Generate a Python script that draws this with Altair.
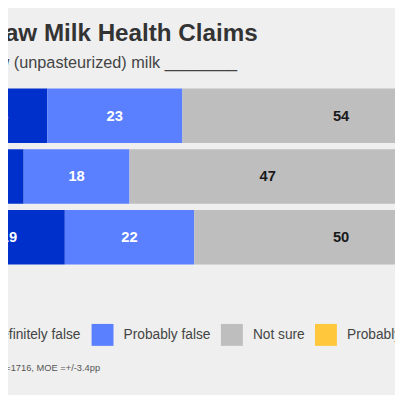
import altair as alt
import pandas as pd

# ---- data ----
claims = [
    "Is more nutritious than pasteurized milk",
    "Helps treat allergies and asthma",
    "Is better for gut health",
]
responses = ["Definitely false", "Probably false", "Not sure", "Probably true", "Definitely true"]
definitely_false = [16, 12, 19]
probably_false = [23, 18, 22]
not_sure = [54, 47, 50]
probably_true = [5, 16, 6]
definitely_true = [2, 7, 3]
colors = ["#0030cc", "#5a80ff", "#bebebe", "#ffc83c", "#e89a00"]
label_colors = ["#ffffff", "#ffffff", "#1a1a1a", "#1a1a1a", "#1a1a1a"]

title_text = "Raw Milk Health Claims"
subtitle_text = "Raw (unpasteurized) milk ________"
source_text = "Source: online survey of U.S. adults, N=1716, MOE =+/-3.4pp"

series = [definitely_false, probably_false, not_sure, probably_true, definitely_true]
rows = []
for ci, claim in enumerate(claims):
    for ri, resp in enumerate(responses):
        rows.append({"claim": claim, "response": resp, "order": ri,
                     "value": series[ri][ci], "lab": label_colors[ri]})
df = pd.DataFrame(rows)

FONT = "Liberation Sans"

xscale = alt.Scale(domain=[0, 100], range=[-56, 544])
yscale = alt.Scale(domain=claims, paddingInner=0.1, paddingOuter=0.05)

base = alt.Chart(df).transform_stack(
    stack="value", groupby=["claim"], as_=["x0", "x1"],
    sort=[alt.SortField("order", order="ascending")]
).transform_calculate(mid="(datum.x0 + datum.x1) / 2")

bars = base.mark_bar(clip=False).encode(
    x=alt.X("x0:Q", scale=xscale, axis=None),
    x2="x1:Q",
    y=alt.Y("claim:N", scale=yscale, axis=None),
    color=alt.Color(
        "response:N",
        scale=alt.Scale(domain=responses, range=colors),
        legend=alt.Legend(
            title=None, orient="none", direction="horizontal",
            legendX=-50, legendY=243, symbolType="square", symbolSize=500,
            symbolStrokeWidth=0, symbolOpacity=1, labelFont=FONT, labelFontSize=14,
            labelColor="#444444", labelOffset=10, columnPadding=10, padding=0,
            labelLimit=300,
        ),
    ),
)

labels = base.mark_text(font=FONT, fontSize=15, fontWeight="bold", baseline="middle").encode(
    x=alt.X("mid:Q", scale=xscale),
    y=alt.Y("claim:N", scale=yscale),
    text=alt.Text("value:Q"),
    color=alt.Color("lab:N", scale=None),
)

title_df = pd.DataFrame({"t": [title_text]})
title = alt.Chart(title_df).mark_text(
    font=FONT, fontSize=24.7, fontWeight="bold", color="#333333",
    align="left", baseline="alphabetic"
).encode(x=alt.value(-21), y=alt.value(-45), text="t:N")

sub_df = pd.DataFrame({"t": [subtitle_text]})
subtitle = alt.Chart(sub_df).mark_text(
    font=FONT, fontSize=16.6, color="#444444", align="right", baseline="alphabetic"
).encode(x=alt.value(233.7), y=alt.value(-18), text="t:N")

src_df = pd.DataFrame({"t": [source_text]})
source = alt.Chart(src_df).mark_text(
    font=FONT, fontSize=9.5, color="#555555", align="right", baseline="alphabetic"
).encode(x=alt.value(94), y=alt.value(291), text="t:N")

chart = alt.layer(bars, labels, title, subtitle, source).properties(
    width=395, height=186,
    autosize=alt.AutoSizeParams(type="none"),
    padding={"left": 0, "top": 75, "right": 0, "bottom": 126},
    background="#efefef",
).configure_view(stroke=None)

chart.save("out.html", embed_options={"renderer": "svg", "actions": False})
